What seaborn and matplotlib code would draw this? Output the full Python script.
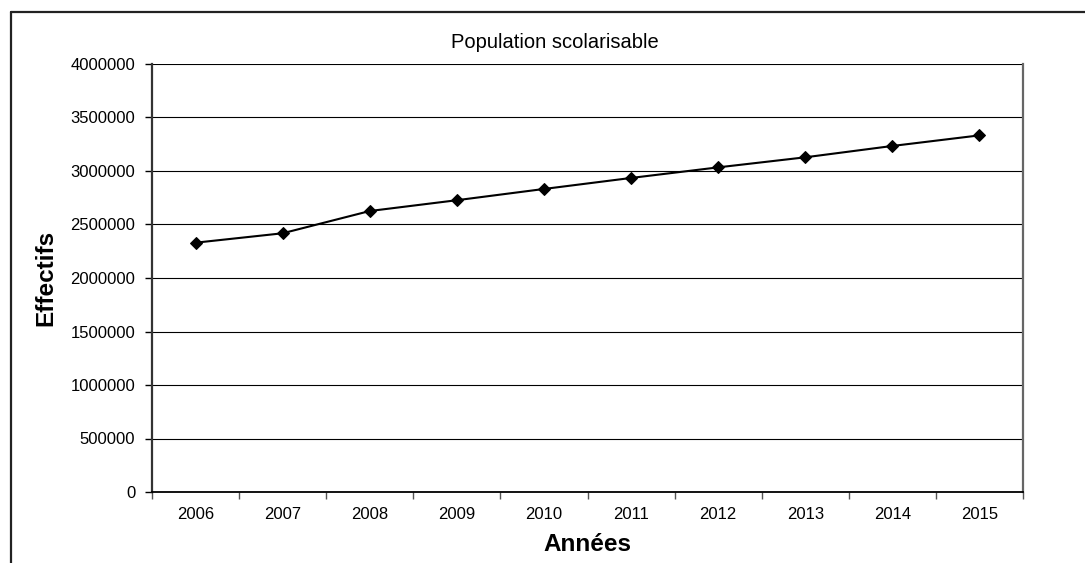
import matplotlib
matplotlib.use("Agg")
import matplotlib.pyplot as plt
from matplotlib.lines import Line2D
from matplotlib.ticker import FixedLocator
import seaborn as sns
import pandas as pd

years = ["2006", "2007", "2008", "2009", "2010", "2011", "2012", "2013", "2014", "2015"]
effectifs = [2330000, 2418000, 2626000, 2727000, 2832000, 2935000, 3034000, 3128000, 3234000, 3333000]
y_ticks = [0, 500000, 1000000, 1500000, 2000000, 2500000, 3000000, 3500000, 4000000]

sns.set_theme(style="white")
plt.rcParams["font.family"] = ["Liberation Sans", "DejaVu Sans"]
plt.rcParams["text.color"] = "black"
plt.rcParams["axes.labelcolor"] = "black"
plt.rcParams["xtick.color"] = "black"
plt.rcParams["ytick.color"] = "black"

df = pd.DataFrame({"pos": range(len(years)), "annee": years, "effectif": effectifs})

fig = plt.figure(figsize=(10.85, 5.63), dpi=100)
ax = fig.add_axes([152 / 1085, 71 / 563, 871 / 1085, 428 / 563])

sns.lineplot(data=df, x="pos", y="effectif", ax=ax, color="black", linewidth=1.5,
             marker="D", markersize=6, markeredgecolor="black", markerfacecolor="black")

ax.set_xlim(-0.5, len(years) - 0.5)
ax.set_ylim(0, 4000000)

# horizontal gridlines
ax.set_yticks(y_ticks)
ax.set_yticklabels([str(v) for v in y_ticks], fontsize=12)
ax.yaxis.grid(True, color="black", linewidth=0.8)
ax.xaxis.grid(False)
ax.set_axisbelow(True)

# category labels centred, tick marks on the category boundaries
ax.set_xticks(range(len(years)))
ax.set_xticklabels(years, fontsize=12)
ax.xaxis.set_minor_locator(FixedLocator([i - 0.5 for i in range(len(years) + 1)]))
ax.tick_params(axis="x", which="major", length=0, pad=11, labelcolor="black")
ax.tick_params(axis="x", which="minor", length=5, width=1, color="#555555", bottom=True)
ax.tick_params(axis="y", which="major", length=5, width=1, pad=7, left=True,
               color="black", labelcolor="black")

for side in ("left", "bottom"):
    ax.spines[side].set_color("black")
    ax.spines[side].set_linewidth(1.3)
ax.spines["left"].set_color("#333333")
ax.spines["left"].set_linewidth(1.6)
ax.spines["right"].set_color("#666666")
ax.spines["right"].set_linewidth(1.6)
ax.spines["top"].set_visible(False)

ax.set_xlabel("Années", fontsize=17.5, fontweight="bold", va="center", color="black")
ax.xaxis.set_label_coords(0.5, -0.122)
ax.set_ylabel("Effectifs", fontsize=17.5, fontweight="bold", va="center", color="black")
ax.yaxis.set_label_coords((46 - 152) / 871, 0.5)

fig.text(555 / 1085, 1 - 48 / 563, "Population scolarisable", fontsize=14.5,
         ha="center", va="baseline", color="black")

# chart area frame (top and left edges)
fig.add_artist(Line2D([11 / 1085, 11 / 1085], [0, 1 - 12 / 563], transform=fig.transFigure,
                      color="#222222", linewidth=1.6))
fig.add_artist(Line2D([11 / 1085, 1], [1 - 12 / 563, 1 - 12 / 563], transform=fig.transFigure,
                      color="#222222", linewidth=1.6))

fig.savefig("out.png", dpi=100)
